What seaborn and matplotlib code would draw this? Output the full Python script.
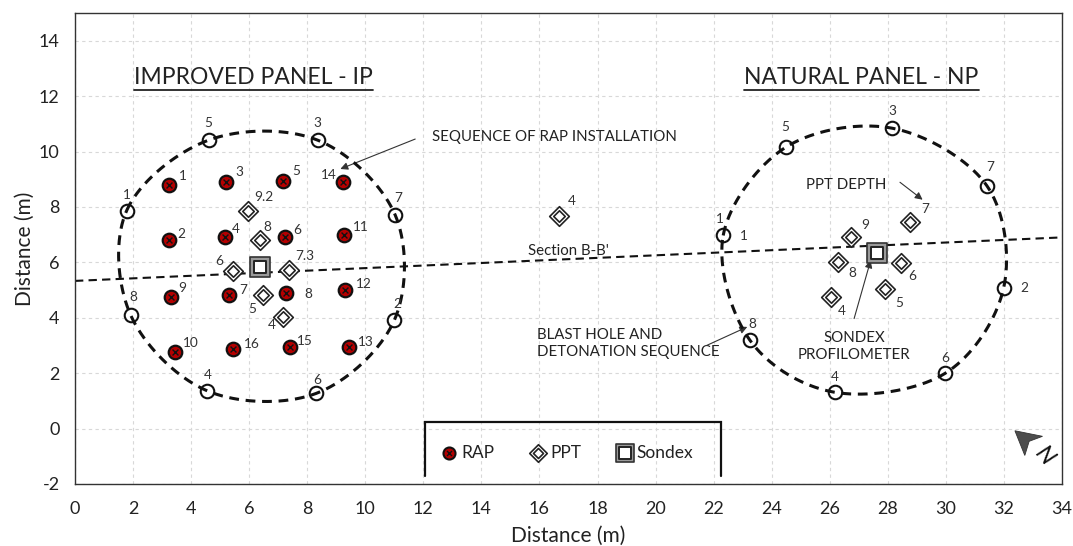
import numpy as np
import matplotlib
matplotlib.use("Agg")
import matplotlib.pyplot as plt
from matplotlib.patches import Polygon
from matplotlib.legend_handler import HandlerTuple
from matplotlib.ticker import MultipleLocator
import seaborn as sns

# ---------------- data ----------------
# Improved panel (IP): blast holes in detonation order around the panel
ip_hole_id = ["1", "5", "3", "7", "2", "6", "4", "8"]
ip_hole_x = [1.78, 4.60, 8.36, 11.03, 11.00, 8.31, 4.56, 1.92]
ip_hole_y = [7.87, 10.41, 10.41, 7.71, 3.91, 1.27, 1.36, 4.09]

# RAP elements with installation sequence
rap_id = ["1", "3", "5", "14", "2", "4", "6", "11",
          "9", "7", "8", "12", "10", "16", "15", "13"]
rap_x = [3.25, 5.21, 7.18, 9.23, 3.25, 5.17, 7.24, 9.28,
         3.30, 5.29, 7.28, 9.31, 3.45, 5.46, 7.41, 9.43]
rap_y = [8.79, 8.89, 8.95, 8.91, 6.79, 6.91, 6.91, 6.97,
         4.75, 4.83, 4.89, 5.01, 2.77, 2.87, 2.93, 2.95]

# PPT sensors with installation depth (m)
ppt_depth = ["9.2", "8", "6", "7.3", "5", "4", "4",
             "9", "7", "8", "6", "5", "4"]
ppt_x = [5.95, 6.36, 5.44, 7.36, 6.47, 7.18, 16.67,
         26.75, 28.77, 26.29, 28.45, 27.90, 26.03]
ppt_y = [7.87, 6.79, 5.67, 5.73, 4.81, 4.03, 7.69,
         6.91, 7.45, 6.01, 5.97, 5.05, 4.75]

# Sondex profilometers
sondex_x = [6.36, 27.62]
sondex_y = [5.83, 6.35]

# Natural panel (NP): blast holes in detonation order
np_hole_id = ["1", "5", "3", "7", "2", "6", "4", "8"]
np_hole_x = [22.33, 24.48, 28.16, 31.41, 31.99, 29.97, 26.17, 23.25]
np_hole_y = [6.97, 10.15, 10.84, 8.77, 5.07, 1.99, 1.31, 3.19]

# Section B-B' end points
section_x = [0.0, 34.0]
section_y = [5.33, 6.90]

# ---------------- label offsets (points) ----------------
ip_hole_off = [(0, 11.5), (0, 12), (0, 12), (2, 12.5), (2, 12), (1, 9.5), (0, 11.5), (2, 13)]
rap_off = [(10, 6.7), (9.4, 7.2), (9.1, 7.2), (-10.3, 4.8), (8.9, 4.8), (7.9, 5.5),
           (8.9, 4.8), (11.5, 6), (7.9, 6.5), (10.8, 3.1), (16, -0.9), (13.2, 4.3),
           (11.5, 6.5), (13.2, 3.4), (10.8, 4.8), (12.5, 3.6)]
ppt_off = [(11.3, 9.6), (5.3, 9.6), (-9.9, 7.2), (11.3, 9.9), (-7.9, -9.6), (-8.4, -6),
           (9.1, 10.8), (9.6, 8.9), (10.6, 9.6), (10.3, -7.7), (8.4, -8.9),
           (10.3, -10.1), (7.7, -10.3)]
np_hole_off = [(-2.4, 12), (0, 14.4), (0, 12.7), (2.4, 13.2), (14.9, 0),
               (0, 11.3), (0, 11.3), (1.7, 11.3)]

# ---------------- style ----------------
sns.set_theme(style="white")
plt.rcParams["font.family"] = ["Lato", "DejaVu Sans"]
plt.rcParams["axes.unicode_minus"] = False
TXT = "#222222"


def closed_spline(xs, ys, n=40):
    """Closed Catmull-Rom curve through the given points (Excel-like smoothing)."""
    P = np.column_stack([xs, ys]).astype(float)
    k = len(P)
    t = np.linspace(0, 1, n, endpoint=False)[:, None]
    h00 = 2 * t**3 - 3 * t**2 + 1
    h10 = t**3 - 2 * t**2 + t
    h01 = -2 * t**3 + 3 * t**2
    h11 = t**3 - t**2
    segs = []
    for i in range(k):
        p0, p1, p2, p3 = P[i - 1], P[i], P[(i + 1) % k], P[(i + 2) % k]
        m1 = (p2 - p0) / 2
        m2 = (p3 - p1) / 2
        segs.append(h00 * p1 + h10 * m1 + h01 * p2 + h11 * m2)
    segs.append(P[:1])
    c = np.vstack(segs)
    return c[:, 0], c[:, 1]


fig = plt.figure(figsize=(10.73, 5.46), dpi=100)
ax = fig.add_axes([0.0699, 0.1136, 0.9198, 0.8626])

ax.set_xlim(0, 34)
ax.set_ylim(-2, 15)
ax.xaxis.set_major_locator(MultipleLocator(2))
ax.xaxis.set_minor_locator(MultipleLocator(0.5))
ax.yaxis.set_major_locator(MultipleLocator(2))
ax.yaxis.set_minor_locator(MultipleLocator(0.5))
ax.grid(True, which="major", color="#d8d8d8", lw=0.8, ls=(0, (3, 3)))
ax.set_axisbelow(True)
for s in ax.spines.values():
    s.set_color("#333333")
    s.set_linewidth(1.0)
ax.tick_params(axis="x", which="major", direction="inout", length=11, width=1,
               color="#333333", labelsize=13, labelcolor=TXT, pad=7)
ax.tick_params(axis="x", which="minor", direction="in", length=4, width=0.8, color="#333333")
ax.tick_params(axis="y", which="major", direction="out", length=7, width=1,
               color="#333333", labelsize=13, labelcolor=TXT, pad=4)
ax.tick_params(axis="y", which="minor", direction="out", length=4, width=0.8, color="#333333")
ax.set_xlabel("Distance (m)", fontsize=15, color=TXT, labelpad=6)
ax.set_ylabel("Distance (m)", fontsize=15, color=TXT, labelpad=3)

# Section line
sns.lineplot(x=section_x, y=section_y, ax=ax, color="#111111", lw=1.5,
             dashes=False, zorder=2).lines[-1].set_dashes((4, 2.5))

# Blast hole outlines
for hx, hy in ((ip_hole_x, ip_hole_y), (np_hole_x, np_hole_y)):
    cx, cy = closed_spline(hx, hy)
    ax.plot(cx, cy, color="#111111", lw=2.2, dashes=(3.2, 2.2), zorder=4)

# Blast holes
hole_kw = dict(marker="o", s=95, color="white", edgecolor="#111111", linewidth=1.5, zorder=3)
sns.scatterplot(x=ip_hole_x, y=ip_hole_y, ax=ax, **hole_kw)
sns.scatterplot(x=np_hole_x, y=np_hole_y, ax=ax, **hole_kw)

# RAP
rap_h1 = ax.scatter([], [], marker="o", s=75, color="#b50000", edgecolor="#111111", linewidth=1.5)
rap_h2 = ax.scatter([], [], marker="x", s=13, color="#111111", linewidth=1.0)
sns.scatterplot(x=rap_x, y=rap_y, ax=ax, marker="o", s=95, color="#b50000",
                edgecolor="#111111", linewidth=1.6, zorder=5)
sns.scatterplot(x=rap_x, y=rap_y, ax=ax, marker="x", s=18, color="#111111",
                linewidth=1.0, zorder=6)

# PPT
ppt_h1 = ax.scatter([], [], marker="D", s=80, color="white", edgecolor="#222222", linewidth=1.2)
ppt_h2 = ax.scatter([], [], marker="D", s=26, color="white", edgecolor="#222222", linewidth=1.2)
sns.scatterplot(x=ppt_x, y=ppt_y, ax=ax, marker="D", s=100, color="white",
                edgecolor="#222222", linewidth=1.2, zorder=5)
sns.scatterplot(x=ppt_x, y=ppt_y, ax=ax, marker="D", s=34, color="white",
                edgecolor="#222222", linewidth=1.2, zorder=6)

# Sondex
son_h1 = ax.scatter([], [], marker="s", s=150, color="#9a9a9a", edgecolor="#333333", linewidth=1.2)
son_h2 = ax.scatter([], [], marker="s", s=65, color="white", edgecolor="#222222", linewidth=1.4)
sns.scatterplot(x=sondex_x, y=sondex_y, ax=ax, marker="s", s=190, color="#9a9a9a",
                edgecolor="#333333", linewidth=1.2, zorder=5)
sns.scatterplot(x=sondex_x, y=sondex_y, ax=ax, marker="s", s=85, color="white",
                edgecolor="#222222", linewidth=1.4, zorder=6)

# Point labels
num_kw = dict(textcoords="offset points", ha="center", va="center", fontsize=9.8,
              color="#333333", zorder=7)
for lab, x, y, off in zip(ip_hole_id, ip_hole_x, ip_hole_y, ip_hole_off):
    ax.annotate(lab, (x, y), xytext=off, **num_kw)
for lab, x, y, off in zip(np_hole_id, np_hole_x, np_hole_y, np_hole_off):
    ax.annotate(lab, (x, y), xytext=off, **num_kw)
ax.annotate(np_hole_id[0], (np_hole_x[0], np_hole_y[0]), xytext=(14.9, -0.7), **num_kw)
for lab, x, y, off in zip(rap_id, rap_x, rap_y, rap_off):
    ax.annotate(lab, (x, y), xytext=off, **num_kw)
for lab, x, y, off in zip(ppt_depth, ppt_x, ppt_y, ppt_off):
    ax.annotate(lab, (x, y), xytext=off, **num_kw)

# Panel titles (underlined)
titles = [ax.text(6.14, 12.42, "IMPROVED PANEL - IP", fontsize=16.5, ha="center",
                  va="baseline", color=TXT),
          ax.text(27.1, 12.42, "NATURAL PANEL - NP", fontsize=16.5, ha="center",
                  va="baseline", color=TXT)]

# Annotations
note_kw = dict(fontsize=10.8, color=TXT)
arrow_kw = dict(arrowstyle="-|>", lw=0.8, color="#333333", mutation_scale=11,
                shrinkA=0, shrinkB=0)
ax.text(12.31, 10.52, "SEQUENCE OF RAP INSTALLATION", ha="left", va="center", **note_kw)
ax.annotate("", xy=(9.14, 9.37), xytext=(11.72, 10.45), arrowprops=arrow_kw)
ax.text(17.0, 6.42, "Section B-B'", ha="center", va="center", **note_kw)
ax.text(26.58, 8.79, "PPT DEPTH", ha="center", va="center", **note_kw)
ax.annotate("", xy=(29.2, 8.26), xytext=(28.42, 8.89), arrowprops=arrow_kw)
ax.text(26.84, 2.95, "SONDEX\nPROFILOMETER", ha="center", va="center",
        linespacing=1.25, **note_kw)
ax.annotate("", xy=(27.41, 6.07), xytext=(26.84, 3.97), arrowprops=arrow_kw)
ax.text(15.93, 3.07, "BLAST HOLE AND\nDETONATION SEQUENCE", ha="left", va="center",
        linespacing=1.25, **note_kw)
ax.annotate("", xy=(23.16, 3.67), xytext=(21.76, 3.0), arrowprops=arrow_kw)

# North arrow
ax.add_patch(Polygon([(32.38, -0.08), (33.33, -0.28), (32.87, -0.46), (32.72, -0.97)],
                     closed=True, facecolor="#4d4d4d", edgecolor="#333333", lw=0.6, zorder=6))
ax.text(33.40, -1.0, "N", fontsize=17, rotation=-50, ha="center", va="center",
        style="italic", color="#111111", zorder=6)

# Legend with a three-sided frame resting on the x axis
ax.plot([12.07, 12.07, 22.24, 22.24], [-1.7, 0.23, 0.23, -1.7], color="#111111",
        lw=1.6, zorder=6, solid_joinstyle="miter")
ax.legend([(rap_h1, rap_h2), (ppt_h1, ppt_h2), (son_h1, son_h2)],
          ["RAP", "PPT", "Sondex"],
          handler_map={tuple: HandlerTuple(ndivide=1, pad=0)},
          loc="center", bbox_to_anchor=(16.95, -0.88), bbox_transform=ax.transData,
          ncol=3, frameon=False, fontsize=12.5, handlelength=1.0, handletextpad=0.2,
          columnspacing=2.0, borderpad=0, labelcolor=TXT)

# Underline the panel titles
fig.canvas.draw()
renderer = fig.canvas.get_renderer()
inv = ax.transData.inverted()
for t in titles:
    bb = t.get_window_extent(renderer)
    (x0, y0), (x1, _) = inv.transform([(bb.x0, bb.y0 - 1.5), (bb.x1, bb.y0 - 1.5)])
    ax.plot([x0, x1], [y0, y0], color=TXT, lw=1.3, zorder=6)

fig.savefig("out.png", dpi=100)
